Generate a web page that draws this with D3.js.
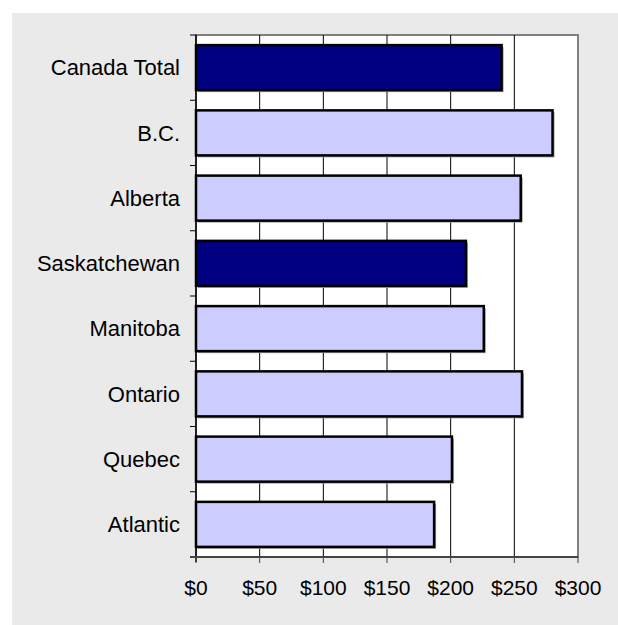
<!DOCTYPE html>
<html>
<head>
<meta charset="utf-8">
<script src="https://cdn.jsdelivr.net/npm/d3@7"></script>
<style>
  body { margin: 0; background: #fff; }
  text { font-family: "Liberation Sans", Arial, sans-serif; }
</style>
</head>
<body>
<div id="chart"></div>
<script>
// data
var regions = ["Canada Total", "B.C.", "Alberta", "Saskatchewan", "Manitoba", "Ontario", "Quebec", "Atlantic"];
var costs = [240, 280, 255, 212, 226, 256, 201, 187];
var highlighted = ["Canada Total", "Saskatchewan"];
var xTicks = [0, 50, 100, 150, 200, 250, 300];

function init() {
  var w = 618, h = 625;
  var pLeft = 196, pRight = 578, pTop = 35, pBottom = 557;

  var svg = d3.select("#chart").append("svg")
    .attr("width", w)
    .attr("height", h);

  // grey panel
  svg.append("rect")
    .attr("x", 12).attr("y", 13)
    .attr("width", w - 12).attr("height", h - 13)
    .attr("fill", "#eaeaea");

  var x = d3.scaleLinear().domain([0, 300]).range([pLeft, pRight]);
  var y = d3.scaleBand().domain(regions).range([pTop, pBottom]).paddingInner(0.31).paddingOuter(0.155);
  var yb = d3.scaleBand().domain(regions).range([pTop, pBottom]);

  // plot area
  svg.append("rect")
    .attr("x", pLeft).attr("y", pTop)
    .attr("width", pRight - pLeft).attr("height", pBottom - pTop)
    .attr("fill", "#fff")
    .attr("stroke", "#808080")
    .attr("stroke-width", 2);

  // gridlines
  svg.selectAll(".grid")
    .data(xTicks.slice(1, -1))
    .enter().append("line")
    .attr("x1", function (d) { return x(d); })
    .attr("x2", function (d) { return x(d); })
    .attr("y1", pTop).attr("y2", pBottom)
    .attr("stroke", "#000")
    .attr("stroke-width", 1);

  // shadows
  svg.selectAll(".shadow")
    .data(costs)
    .enter().append("rect")
    .attr("x", x(0) + 2)
    .attr("y", function (d, i) { return y(regions[i]) + 2; })
    .attr("width", function (d) { return x(d) - x(0); })
    .attr("height", y.bandwidth())
    .attr("fill", "#9a9a9a");

  // bars
  svg.selectAll(".bar")
    .data(costs)
    .enter().append("rect")
    .attr("x", x(0))
    .attr("y", function (d, i) { return y(regions[i]); })
    .attr("width", function (d) { return x(d) - x(0); })
    .attr("height", y.bandwidth())
    .attr("fill", function (d, i) { return highlighted.indexOf(regions[i]) >= 0 ? "#000080" : "#ccccff"; })
    .attr("stroke", "#000")
    .attr("stroke-width", 2.5);

  // y axis
  var yAxis = svg.append("g");
  yAxis.append("line")
    .attr("x1", pLeft).attr("x2", pLeft)
    .attr("y1", pTop).attr("y2", pBottom + 5)
    .attr("stroke", "#000").attr("stroke-width", 1.5);
  yAxis.selectAll(".ytick")
    .data(regions)
    .enter().append("line")
    .attr("x1", pLeft - 6).attr("x2", pLeft)
    .attr("y1", function (d) { return yb(d); })
    .attr("y2", function (d) { return yb(d); })
    .attr("stroke", "#000");
  yAxis.selectAll(".ylab")
    .data(regions)
    .enter().append("text")
    .attr("x", 180)
    .attr("y", function (d) { return yb(d) + yb.bandwidth() / 2; })
    .attr("dy", "0.35em")
    .attr("text-anchor", "end")
    .attr("font-size", "22px")
    .attr("fill", "#000")
    .text(function (d) { return d; });

  // x axis
  var xAxis = svg.append("g");
  xAxis.append("line")
    .attr("x1", pLeft - 6).attr("x2", pRight)
    .attr("y1", pBottom).attr("y2", pBottom)
    .attr("stroke", "#444").attr("stroke-width", 2);
  xAxis.selectAll(".xtick")
    .data(xTicks)
    .enter().append("line")
    .attr("x1", function (d) { return x(d); })
    .attr("x2", function (d) { return x(d); })
    .attr("y1", pBottom).attr("y2", pBottom + 6)
    .attr("stroke", "#444");
  xAxis.selectAll(".xlab")
    .data(xTicks)
    .enter().append("text")
    .attr("x", function (d) { return x(d); })
    .attr("y", 588)
    .attr("dy", "0.35em")
    .attr("text-anchor", "middle")
    .attr("font-size", "21px")
    .attr("fill", "#000")
    .text(function (d) { return "$" + d; });
}

window.onload = init;
</script>
</body>
</html>
